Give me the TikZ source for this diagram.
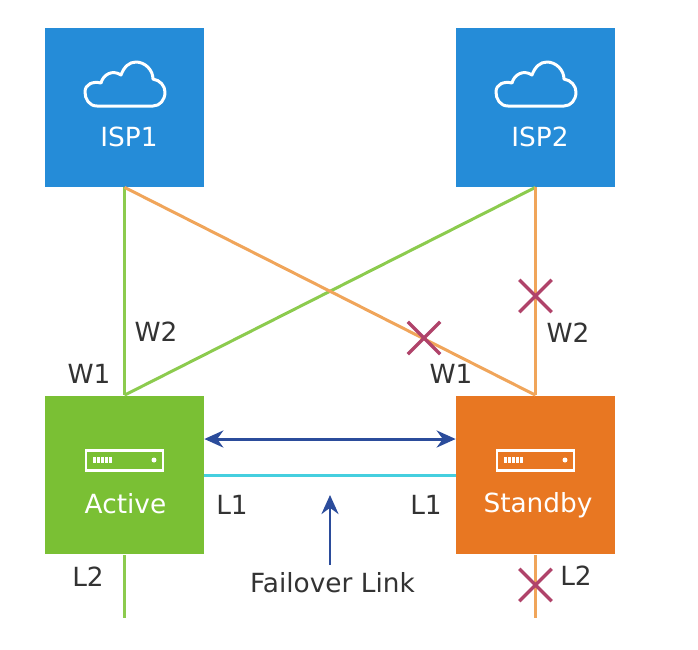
\documentclass[tikz,border=0pt]{standalone}
\usepackage{fontspec}
\setmainfont{DejaVu Sans}
\usetikzlibrary{shapes.misc,arrows.meta}
\definecolor{ispblue}{HTML}{258CD8}
\definecolor{activegreen}{HTML}{7AC034}
\definecolor{standbyorange}{HTML}{E87722}
\definecolor{linegreen}{HTML}{8CCB4E}
\definecolor{lineorange}{HTML}{F0A55A}
\definecolor{arrownavy}{HTML}{2B4C9B}
\definecolor{linkcyan}{HTML}{45CFDF}
\definecolor{crossred}{HTML}{B0436A}
\definecolor{labelgray}{HTML}{333333}
\tikzset{
    devbox/.style={minimum size=3.18cm, inner sep=0pt},
    lbl/.style={text=labelgray, inner sep=0pt, font=\fontsize{15}{17}\selectfont},
    boxlbl/.style={text=white, inner sep=0pt, font=\fontsize{15}{17}\selectfont},
    wire/.style={line width=0.06cm},
    navyarrow/.style={draw=arrownavy, line width=0.06cm, -{Stealth[length=0.38cm,width=0.34cm]}},
    crossmark/.style={cross out, draw=crossred, line width=0.07cm, minimum size=0.58cm, inner sep=0pt},
    pics/cloudicon/.style={code={
        \draw[white, line width=0.06cm, line join=round]
            (-28,22) .. controls (-36,22) and (-40,15) .. (-40,8)
            .. controls (-40,0) and (-32,-3) .. (-24,-1)
            .. controls (-22,-9) and (-13,-15) .. (-4,-9)
            .. controls (-1,-17) and (4,-22) .. (11,-22)
            .. controls (20,-22) and (28,-14) .. (28,-5)
            .. controls (35,-4) and (40,2) .. (40,8)
            .. controls (40,16) and (35,22) .. (28,22) -- cycle;
    }},
    pics/servericon/.style={code={
        \draw[white, line width=0.06cm] (-38.5,-10) rectangle (38.5,10);
        \foreach \barx in {-30,-26,-22,-18,-14}
            \draw[white, line width=0.045cm] (\barx,-3) -- (\barx,3);
        \fill[white] (29.5,0) circle (0.05cm);
    }}
}
\begin{document}
\begin{tikzpicture}[x=0.02cm, y=-0.02cm]
    \useasboundingbox (0,0) rectangle (698,650);

    % boxes
    \node[devbox, fill=ispblue] (isp1) at (124.5,107.5) {};
    \node[devbox, fill=ispblue] (isp2) at (535.5,107.5) {};
    \node[devbox, fill=activegreen] (active) at (124.5,475) {};
    \node[devbox, fill=standbyorange] (standby) at (535.5,475) {};

    \pic at (125,84) {cloudicon};
    \pic at (536,84) {cloudicon};
    \pic at (124.5,460) {servericon};
    \pic at (535.5,460) {servericon};

    \node[boxlbl] (isp1txt) at (129,137) {ISP1};
    \node[boxlbl] (isp2txt) at (540,137) {ISP2};
    \node[boxlbl] (activetxt) at (125.5,504) {Active};
    \node[boxlbl] (standbytxt) at (538,505) {Standby};

    % free ends
    \coordinate (activeend) at (124.5,618);
    \coordinate (standbyend) at (535.5,618);

    % wires
    \draw[wire, linegreen] (isp1.south) -- (active.north);
    \draw[wire, linegreen] (isp2.south) -- (active.north);
    \draw[wire, lineorange] (isp1.south) -- (standby.north);
    \draw[wire, lineorange] (isp2.south) -- (standby.north);
    \draw[wire, linegreen] (active.south) -- (activeend);
    \draw[wire, lineorange] (standby.south) -- (standbyend);
    \draw[wire, linkcyan] (active.east) -- (standby.west);

    % failover
    \node[lbl] (failover) at (332.5,583) {Failover Link};
    \coordinate (failovertip) at (330,495);
    \coordinate (failovertail) at (330,565);
    \draw[navyarrow] (failovertail) -- (failovertip);
    \draw[navyarrow, {Stealth[length=0.38cm,width=0.34cm]}-{Stealth[length=0.38cm,width=0.34cm]}]
        ([yshift=0.72cm]active.east) -- ([yshift=0.72cm]standby.west);

    % crosses
    \node[crossmark] (crossw1) at (424,338) {};
    \node[crossmark] (crossw2) at (535.5,296) {};
    \node[crossmark] (crossl2) at (535.5,585) {};

    % labels
    \node[lbl] (w2a) at (156,332) {W2};
    \node[lbl] (w1a) at (89,374) {W1};
    \node[lbl] (w2s) at (568,333) {W2};
    \node[lbl] (w1s) at (451,374) {W1};
    \node[lbl] (l1a) at (232,505) {L1};
    \node[lbl] (l1s) at (426,505) {L1};
    \node[lbl] (l2a) at (88,577) {L2};
    \node[lbl] (l2s) at (576,576) {L2};
\end{tikzpicture}
\end{document}
